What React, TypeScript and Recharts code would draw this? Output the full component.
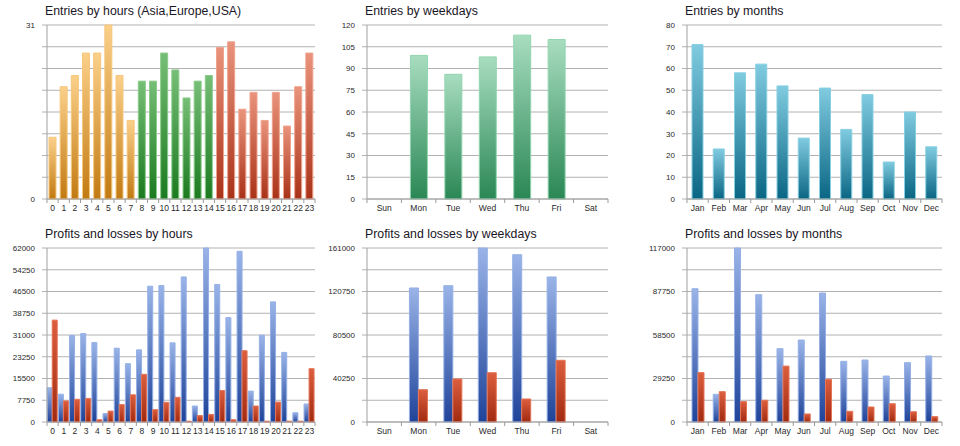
import { BarChart, Bar, XAxis, YAxis, CartesianGrid, Cell } from "recharts";

// Categories
const HOURS = ["0", "1", "2", "3", "4", "5", "6", "7", "8", "9", "10", "11", "12", "13", "14", "15", "16", "17", "18", "19", "20", "21", "22", "23"];
const WEEKDAYS = ["Sun", "Mon", "Tue", "Wed", "Thu", "Fri", "Sat"];
const MONTHS = ["Jan", "Feb", "Mar", "Apr", "May", "Jun", "Jul", "Aug", "Sep", "Oct", "Nov", "Dec"];

// Session of each hour: Asia, Europe, USA
const HOUR_SESSIONS = [
  "asia", "asia", "asia", "asia", "asia", "asia", "asia", "asia",
  "europe", "europe", "europe", "europe", "europe", "europe", "europe",
  "usa", "usa", "usa", "usa", "usa", "usa", "usa", "usa", "usa",
];

// Entry counts
const hourEntries = [11, 20, 22, 26, 26, 31, 22, 14, 21, 21, 26, 23, 18, 21, 22, 27, 28, 16, 19, 14, 19, 13, 20, 26];
const weekdayEntries = [0, 99, 86, 98, 113, 110, 0];
const monthEntries = [71, 23, 58, 62, 52, 28, 51, 32, 48, 17, 40, 24];

// Profits / losses
const hourProfits = [12200, 9900, 30800, 31500, 28300, 3000, 26300, 20800, 25700, 48400, 48600, 28200, 51700, 5700, 62000, 49000, 37200, 60800, 11000, 30900, 42800, 24800, 3300, 6400];
const hourLosses = [36300, 7500, 8100, 8400, 800, 3900, 6200, 9700, 17000, 4400, 7000, 8800, 300, 2300, 2700, 11200, 800, 25400, 5700, 300, 7100, 300, 300, 19000];
const weekdayProfits = [0, 124000, 126100, 161000, 154800, 134200, 0];
const weekdayLosses = [0, 29900, 39800, 45600, 21300, 57100, 0];
const monthProfits = [89600, 18600, 117000, 85600, 49300, 55100, 86700, 40800, 41700, 30900, 39900, 44400];
const monthLosses = [33200, 20400, 13700, 14600, 37600, 5400, 28700, 7200, 10100, 12300, 6900, 3600];

// Y axis ticks and the ones that get a label
const hourEntryTicks = [0, 3.875, 7.75, 11.625, 15.5, 19.375, 23.25, 27.125, 31];
const hourEntryLabels = [0, 31];
const weekdayEntryTicks = [0, 15, 30, 45, 60, 75, 90, 105, 120];
const monthEntryTicks = [0, 10, 20, 30, 40, 50, 60, 70, 80];
const hourPLTicks = [0, 7750, 15500, 23250, 31000, 38750, 46500, 54250, 62000];
const weekdayPLTicks = [0, 20125, 40250, 60375, 80500, 100625, 120750, 140875, 161000];
const weekdayPLLabels = [0, 40250, 80500, 120750, 161000];
const monthPLTicks = [0, 14625, 29250, 43875, 58500, 73125, 87750, 102375, 117000];
const monthPLLabels = [0, 29250, 58500, 87750, 117000];

const GRADIENTS: Record<string, { top: string; bottom: string; stroke: string }> = {
  asia: { top: "#fbd08a", bottom: "#c27a12", stroke: "#f6c67c" },
  europe: { top: "#76be76", bottom: "#1b7a20", stroke: "#8acb8a" },
  usa: { top: "#ea937c", bottom: "#a83218", stroke: "#efa28c" },
  weekday: { top: "#a8ddc0", bottom: "#2a8755", stroke: "#92d5ae" },
  month: { top: "#80cbe0", bottom: "#0a6684", stroke: "#86cfe2" },
  profit: { top: "#9ab4e8", bottom: "#1f4399", stroke: "#94b0e6" },
  loss: { top: "#dc5e3e", bottom: "#a02a10", stroke: "#e47456" },
};

const FONT = "'Liberation Sans', Arial, sans-serif";
const CHART_W = 320;
const CHART_H = 223;
const MARGIN_LEFT = 7;
const Y_WIDTH = 40;

type Series = { key: string; values: number[]; grad: string; cellGrads?: string[] };

function BandTick(props: any) {
  const { x, y, payload, index, band, count } = props;
  return (
    <g>
      <line x1={x - band / 2} x2={x - band / 2} y1={y} y2={y + 4} stroke="#9a9a9a" />
      {index === count - 1 && <line x1={x + band / 2} x2={x + band / 2} y1={y} y2={y + 4} stroke="#9a9a9a" />}
      <text x={x} y={y + 12} textAnchor="middle" fontSize={8.5} fill="#2a2a2a" fontFamily={FONT}>
        {payload.value}
      </text>
    </g>
  );
}

function Panel(props: {
  id: string;
  left: number;
  top: number;
  title: string;
  categories: string[];
  series: Series[];
  ticks: number[];
  labels?: number[];
  rightPad: number;
  barSize?: number;
  categoryGap?: string;
}) {
  const { id, left, top, title, categories, series, ticks, labels, rightPad, barSize, categoryGap } = props;
  const data = categories.map((name, i) => {
    const row: Record<string, any> = { name };
    series.forEach(s => (row[s.key] = s.values[i]));
    return row;
  });
  const band = (CHART_W - MARGIN_LEFT - Y_WIDTH - rightPad) / categories.length;
  const used = Array.from(new Set(series.flatMap(s => (s.cellGrads ? s.cellGrads : [s.grad]))));

  return (
    <div style={{ position: "absolute", left, top, width: CHART_W, height: CHART_H }}>
      <div
        style={{
          position: "absolute",
          left: 45,
          top: 4,
          fontFamily: FONT,
          fontSize: 12.3,
          color: "#1a1626",
          whiteSpace: "nowrap",
        }}
      >
        {title}
      </div>
      <BarChart
        width={CHART_W}
        height={CHART_H}
        data={data}
        margin={{ top: 25, right: rightPad, bottom: 4, left: MARGIN_LEFT }}
        barGap={0}
        barSize={barSize}
        barCategoryGap={categoryGap ?? "10%"}
      >
        <defs>
          {used.map(g => (
            <linearGradient key={g} id={`${id}-${g}`} x1="0" y1="0" x2="0" y2="1">
              <stop offset="0%" stopColor={GRADIENTS[g].top} />
              <stop offset="100%" stopColor={GRADIENTS[g].bottom} />
            </linearGradient>
          ))}
        </defs>
        <CartesianGrid vertical={false} stroke="#b2b2b2" />
        <XAxis
          dataKey="name"
          height={20}
          interval={0}
          tickSize={0}
          tickMargin={0}
          axisLine={{ stroke: "#a0a0a0" }}
          tickLine={false}
          tick={(p: any) => <BandTick {...p} band={band} count={categories.length} />}
        />
        <YAxis
          width={Y_WIDTH}
          domain={[0, ticks[ticks.length - 1]]}
          ticks={ticks}
          interval={0}
          tickSize={5}
          tickMargin={7}
          axisLine={{ stroke: "#a0a0a0" }}
          tickLine={{ stroke: "#b2b2b2" }}
          tick={{ fontSize: 8, fill: "#2a2a2a", fontFamily: FONT }}
          tickFormatter={(v: number) => (!labels || labels.includes(v) ? String(v) : "")}
        />
        {series.map(s => (
          <Bar key={s.key} dataKey={s.key} isAnimationActive={false} fill={`url(#${id}-${s.grad})`} stroke={GRADIENTS[s.grad].stroke}>
            {s.cellGrads &&
              s.cellGrads.map((g, i) => <Cell key={i} fill={`url(#${id}-${g})`} stroke={GRADIENTS[g].stroke} />)}
          </Bar>
        ))}
      </BarChart>
    </div>
  );
}

export default function App() {
  return (
    <div style={{ position: "absolute", left: 0, top: 0, width: 960, height: 446, background: "#fff", overflow: "hidden" }}>
      <Panel
        id="eh"
        left={0}
        top={0}
        title="Entries by hours (Asia,Europe,USA)"
        categories={HOURS}
        series={[{ key: "entries", values: hourEntries, grad: "asia", cellGrads: HOUR_SESSIONS }]}
        ticks={hourEntryTicks}
        labels={hourEntryLabels}
        rightPad={5}
        barSize={7}
      />
      <Panel
        id="ew"
        left={320}
        top={0}
        title="Entries by weekdays"
        categories={WEEKDAYS}
        series={[{ key: "entries", values: weekdayEntries, grad: "weekday" }]}
        ticks={weekdayEntryTicks}
        rightPad={32}
        barSize={17}
      />
      <Panel
        id="em"
        left={640}
        top={0}
        title="Entries by months"
        categories={MONTHS}
        series={[{ key: "entries", values: monthEntries, grad: "month" }]}
        ticks={monthEntryTicks}
        rightPad={18}
        barSize={11}
      />
      <Panel
        id="ph"
        left={0}
        top={223}
        title="Profits and losses by hours"
        categories={HOURS}
        series={[
          { key: "profit", values: hourProfits, grad: "profit" },
          { key: "loss", values: hourLosses, grad: "loss" },
        ]}
        ticks={hourPLTicks}
        rightPad={5}
        categoryGap="2%"
      />
      <Panel
        id="pw"
        left={320}
        top={223}
        title="Profits and losses by weekdays"
        categories={WEEKDAYS}
        series={[
          { key: "profit", values: weekdayProfits, grad: "profit" },
          { key: "loss", values: weekdayLosses, grad: "loss" },
        ]}
        ticks={weekdayPLTicks}
        labels={weekdayPLLabels}
        rightPad={32}
        barSize={9}
      />
      <Panel
        id="pm"
        left={640}
        top={223}
        title="Profits and losses by months"
        categories={MONTHS}
        series={[
          { key: "profit", values: monthProfits, grad: "profit" },
          { key: "loss", values: monthLosses, grad: "loss" },
        ]}
        ticks={monthPLTicks}
        labels={monthPLLabels}
        rightPad={18}
        barSize={6}
      />
    </div>
  );
}
